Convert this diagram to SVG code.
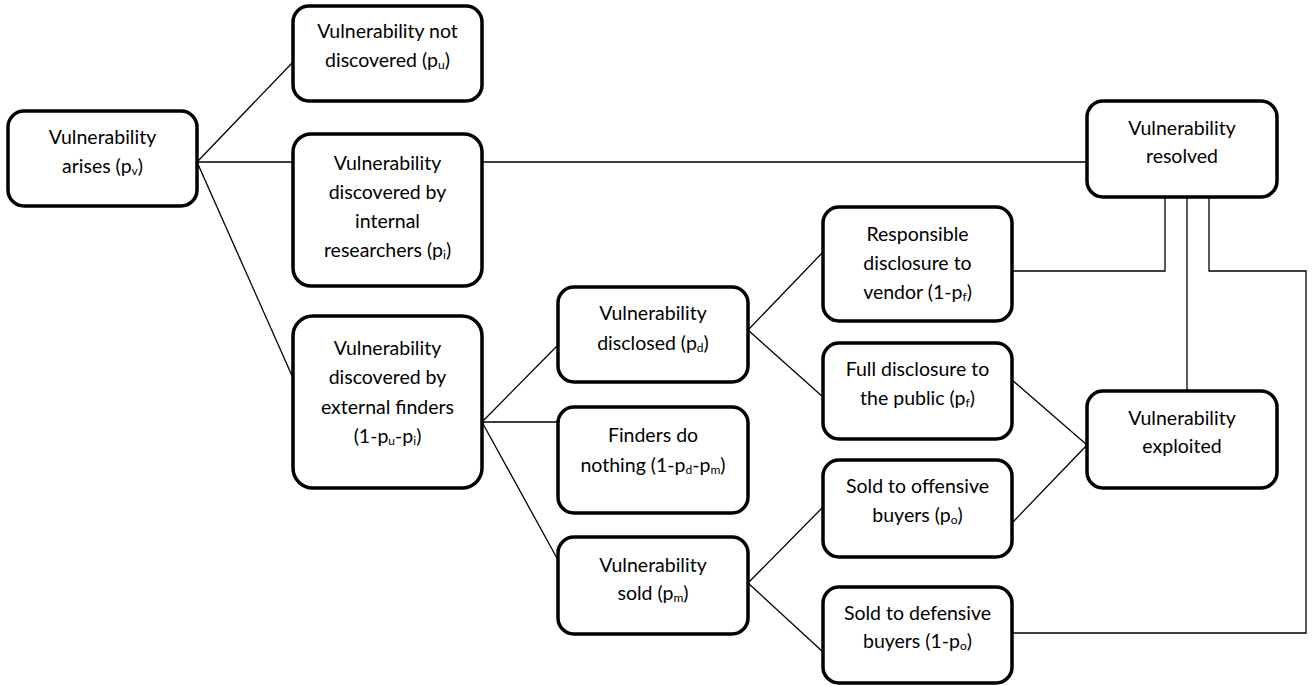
<svg xmlns="http://www.w3.org/2000/svg" width="1312" height="686" viewBox="0 0 1312 686">
<style>
.box{fill:#fff;stroke:#000;stroke-width:3.5}
.t{font-family:Lato,"Liberation Sans",sans-serif;font-size:19.5px;fill:#000;text-anchor:middle}
.sub{font-size:12px;baseline-shift:-2px}
.c{stroke:#000;stroke-width:1.3;fill:none}
</style>
<rect width="1312" height="686" fill="#fff"/>
<g id="connectors">
<line class="c" x1="197" y1="162" x2="293" y2="62"/>
<line class="c" x1="197" y1="162" x2="293" y2="162"/>
<line class="c" x1="197" y1="162" x2="293" y2="378"/>
<line class="c" x1="482" y1="162" x2="1087" y2="162"/>
<line class="c" x1="482" y1="422" x2="558" y2="345"/>
<line class="c" x1="482" y1="422" x2="558" y2="422"/>
<line class="c" x1="482" y1="422" x2="558" y2="560"/>
<line class="c" x1="748" y1="330" x2="823" y2="252"/>
<line class="c" x1="748" y1="330" x2="823" y2="397"/>
<line class="c" x1="748" y1="583" x2="823" y2="507"/>
<line class="c" x1="748" y1="583" x2="823" y2="652"/>
<line class="c" x1="1012" y1="380" x2="1087" y2="445"/>
<line class="c" x1="1012" y1="523" x2="1087" y2="445"/>
<polyline class="c" points="1012,271 1165,271 1165,197"/>
<line class="c" x1="1187" y1="197" x2="1187" y2="391"/>
<polyline class="c" points="1209,197 1209,271 1306,271 1306,633 1012,633"/>
</g>
<g id="n-arises">
<rect class="box" x="8" y="111" width="189" height="95" rx="16"/>
<text class="t" x="102.5" y="144">Vulnerability</text>
<text class="t" x="102.5" y="173">arises (p<tspan class="sub">v</tspan>)</text>
</g>
<g id="n-notdiscovered">
<rect class="box" x="293" y="6" width="189" height="95" rx="16"/>
<text class="t" x="387.5" y="38">Vulnerability not</text>
<text class="t" x="387.5" y="67">discovered (p<tspan class="sub">u</tspan>)</text>
</g>
<g id="n-internal">
<rect class="box" x="293" y="134" width="189" height="152" rx="18"/>
<text class="t" x="387.5" y="170">Vulnerability</text>
<text class="t" x="387.5" y="199">discovered by</text>
<text class="t" x="387.5" y="228">internal</text>
<text class="t" x="387.5" y="257">researchers (p<tspan class="sub">i</tspan>)</text>
</g>
<g id="n-external">
<rect class="box" x="293" y="316" width="189" height="172" rx="20"/>
<text class="t" x="387.5" y="355">Vulnerability</text>
<text class="t" x="387.5" y="384">discovered by</text>
<text class="t" x="387.5" y="414">external finders</text>
<text class="t" x="387.5" y="443">(1-p<tspan class="sub">u</tspan>-p<tspan class="sub">i</tspan>)</text>
</g>
<g id="n-disclosed">
<rect class="box" x="558" y="287" width="190" height="95" rx="16"/>
<text class="t" x="653" y="320">Vulnerability</text>
<text class="t" x="653" y="350">disclosed (p<tspan class="sub">d</tspan>)</text>
</g>
<g id="n-nothing">
<rect class="box" x="558" y="407" width="190" height="106" rx="16"/>
<text class="t" x="653" y="442">Finders do</text>
<text class="t" x="653" y="472">nothing (1-p<tspan class="sub">d</tspan>-p<tspan class="sub">m</tspan>)</text>
</g>
<g id="n-sold">
<rect class="box" x="558" y="537" width="190" height="97" rx="16"/>
<text class="t" x="653" y="572">Vulnerability</text>
<text class="t" x="653" y="600">sold (p<tspan class="sub">m</tspan>)</text>
</g>
<g id="n-responsible">
<rect class="box" x="823" y="207" width="189" height="114" rx="16"/>
<text class="t" x="917.5" y="241">Responsible</text>
<text class="t" x="917.5" y="270">disclosure to</text>
<text class="t" x="917.5" y="299">vendor (1-p<tspan class="sub">f</tspan>)</text>
</g>
<g id="n-full">
<rect class="box" x="823" y="343" width="189" height="96" rx="16"/>
<text class="t" x="917.5" y="376">Full disclosure to</text>
<text class="t" x="917.5" y="405">the public (p<tspan class="sub">f</tspan>)</text>
</g>
<g id="n-offensive">
<rect class="box" x="823" y="460" width="189" height="97" rx="16"/>
<text class="t" x="917.5" y="493">Sold to offensive</text>
<text class="t" x="917.5" y="522">buyers (p<tspan class="sub">o</tspan>)</text>
</g>
<g id="n-defensive">
<rect class="box" x="823" y="587" width="189" height="96" rx="16"/>
<text class="t" x="917.5" y="620">Sold to defensive</text>
<text class="t" x="917.5" y="648">buyers (1-p<tspan class="sub">o</tspan>)</text>
</g>
<g id="n-resolved">
<rect class="box" x="1087" y="101" width="190" height="96" rx="16"/>
<text class="t" x="1182" y="135">Vulnerability</text>
<text class="t" x="1182" y="163">resolved</text>
</g>
<g id="n-exploited">
<rect class="box" x="1087" y="391" width="190" height="97" rx="16"/>
<text class="t" x="1182" y="425">Vulnerability</text>
<text class="t" x="1182" y="453">exploited</text>
</g>
</svg>
